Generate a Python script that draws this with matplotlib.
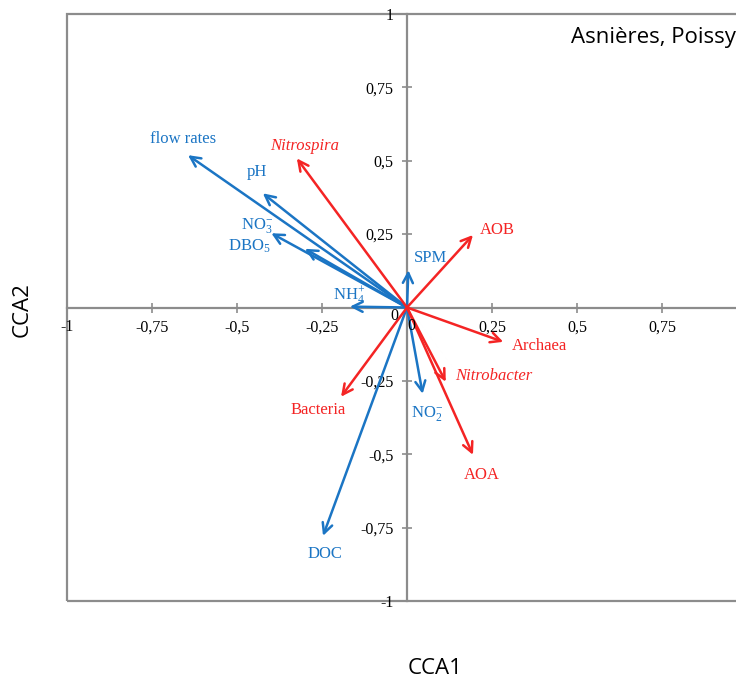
import matplotlib
matplotlib.use("Agg")
import matplotlib.pyplot as plt
from matplotlib.patches import Rectangle

plt.rcParams['font.family'] = ['Liberation Serif', 'DejaVu Serif']
plt.rcParams['mathtext.fontset'] = 'custom'
plt.rcParams['mathtext.rm'] = 'Liberation Serif'
plt.rcParams['mathtext.it'] = 'Liberation Serif:italic'

# environmental variables (blue)
env_names = ['flow rates', 'pH', r'NO$_3^{-}$', r'DBO$_5$', r'NH$_4^{+}$', 'SPM', r'NO$_2^{-}$', 'DOC']
env_x = [-0.644, -0.424, -0.399, -0.30, -0.168, 0.004, 0.046, -0.247]
env_y = [0.519, 0.389, 0.253, 0.20, 0.003, 0.127, -0.294, -0.778]
env_lab_x = [-0.66, -0.44, -0.44, -0.465, -0.17, 0.07, 0.06, -0.24]
env_lab_y = [0.575, 0.46, 0.28, 0.21, 0.04, 0.17, -0.36, -0.84]

# microbial groups (red)
bug_names = ['Nitrospira', 'AOB', 'Archaea', 'Nitrobacter', 'AOA', 'Bacteria']
bug_italic = [True, False, False, True, False, False]
bug_x = [-0.324, 0.194, 0.283, 0.114, 0.194, -0.194]
bug_y = [0.508, 0.247, -0.117, -0.253, -0.502, -0.304]
bug_lab_x = [-0.30, 0.265, 0.39, 0.255, 0.22, -0.26]
bug_lab_y = [0.55, 0.265, -0.13, -0.235, -0.57, -0.35]

xticks = [-1, -0.75, -0.5, -0.25, 0.25, 0.5, 0.75]
yticks = [-1, -0.75, -0.5, -0.25, 0.25, 0.5, 0.75, 1]


def fmt(t):
    return str(int(t)) if t in (-1, 1) else str(t).replace('.', ',')


blue = '#1b75c4'
red = '#f42424'
grey = '#8c8c8c'

fig = plt.figure(figsize=(7.36, 6.82), dpi=100)
ax = fig.add_axes([67 / 736, 81 / 682, 680 / 736, 587 / 682])
ax.set_xlim(-1, 1)
ax.set_ylim(-1, 1)

# zero axes with crossing ticks
for side in ['top', 'right']:
    ax.spines[side].set_visible(False)
ax.spines['left'].set_position('zero')
ax.spines['bottom'].set_position('zero')
for side in ['left', 'bottom']:
    ax.spines[side].set_color(grey)
    ax.spines[side].set_linewidth(1.6)
ax.set_xticks(xticks)
ax.set_yticks(yticks)
ax.set_xticklabels([fmt(t) for t in xticks])
ax.set_yticklabels([fmt(t) for t in yticks])
ax.tick_params(direction='inout', length=7, width=1.2, color=grey, labelsize=11.5)
ax.tick_params(axis='x', pad=5)
ax.tick_params(axis='y', pad=6)
ax.text(-0.025, 0.0, '0', ha='right', va='top', fontsize=11.5, zorder=5)
ax.text(0.0, -0.035, '0', ha='left', va='top', fontsize=11.5, zorder=5)

# outer frame
ax.add_patch(Rectangle((0, 0), 1, 1, transform=ax.transAxes, fill=False,
                       edgecolor=grey, linewidth=1.6, clip_on=False))

for name, x, y, lx, ly in zip(env_names, env_x, env_y, env_lab_x, env_lab_y):
    ax.annotate('', xy=(x, y), xytext=(0, 0),
                arrowprops=dict(arrowstyle='->', color=blue, lw=1.8,
                                mutation_scale=18, shrinkA=0, shrinkB=0))
    ax.text(lx, ly, name, color=blue, fontsize=12, ha='center', va='center')

for name, it, x, y, lx, ly in zip(bug_names, bug_italic, bug_x, bug_y, bug_lab_x, bug_lab_y):
    ax.annotate('', xy=(x, y), xytext=(0, 0),
                arrowprops=dict(arrowstyle='->', color=red, lw=1.8,
                                mutation_scale=18, shrinkA=0, shrinkB=0))
    ax.text(lx, ly, name, color=red, fontsize=12, ha='center', va='center',
            style='italic' if it else 'normal')

sans = ['Open Sans', 'DejaVu Sans']
fig.text(571 / 736, 1 - 38 / 682, 'Asnières, Poissy', ha='left', va='center',
         fontsize=16, family=sans)
fig.text(22 / 736, 1 - 310 / 682, 'CCA2', rotation=90, ha='center', va='center',
         fontsize=16, family=sans)
fig.text(435 / 736, 1 - 668 / 682, 'CCA1', ha='center', va='center',
         fontsize=16, family=sans)

fig.savefig('out.png', dpi=100)
